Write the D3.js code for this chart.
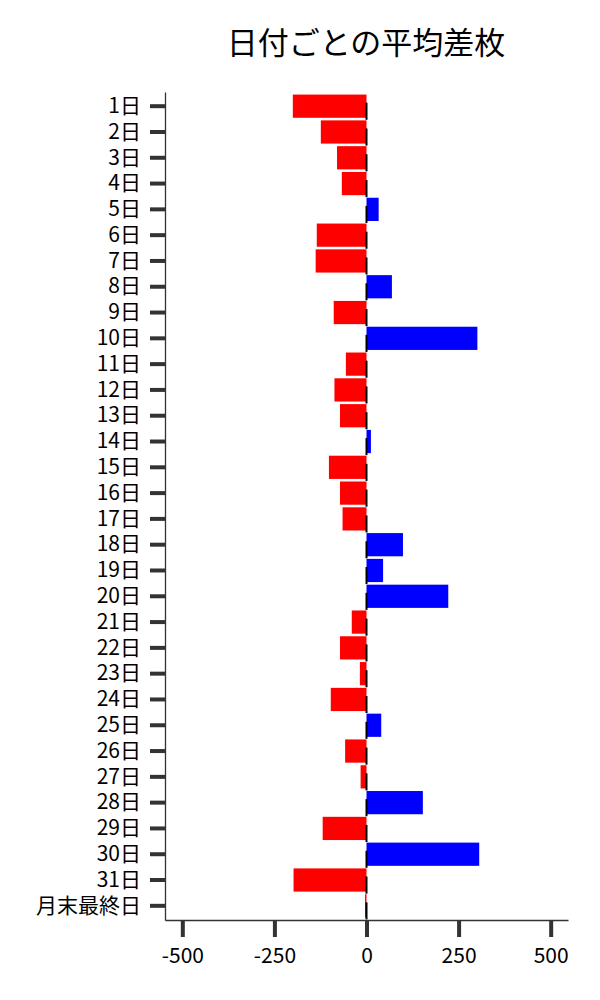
<!DOCTYPE html>
<html>
<head>
<meta charset="utf-8">
<script src="https://cdn.jsdelivr.net/npm/d3@7"></script>
<style>
  body { margin: 0; background: #fff; }
  text { font-family: "Noto Sans CJK JP", "Noto Sans", sans-serif; }
</style>
</head>
<body>
<script>
//categories (day of month) and average difference per day
var days = ["1日","2日","3日","4日","5日","6日","7日","8日","9日","10日",
            "11日","12日","13日","14日","15日","16日","17日","18日","19日","20日",
            "21日","22日","23日","24日","25日","26日","27日","28日","29日","30日",
            "31日","月末最終日"];
var avgDiff = [-200,-124,-80,-67,33,-135,-138,69,-89,301,
               -56,-87,-72,12,-102,-72,-65,99,45,222,
               -40,-72,-18,-97,40,-58,-16,153,-119,306,
               -198,-4];
var xTicks = [-500, -250, 0, 250, 500];

var w = 600, h = 1000;
var margin = {top: 92, right: 32, bottom: 80, left: 165};

var svg = d3.select("body").append("svg")
    .attr("width", w)
    .attr("height", h);

var data = days.map(function(d, i){ return {day: d, value: avgDiff[i]}; });

//scales
var x = d3.scaleLinear()
    .domain([-547, 547])
    .range([margin.left, w - margin.right]);

var y = d3.scaleBand()
    .domain(days)
    .range([margin.top, h - margin.bottom])
    .paddingInner(0.1)
    .paddingOuter(0.1);

//title
svg.append("text")
    .attr("x", 366)
    .attr("y", 54)
    .attr("text-anchor", "middle")
    .style("font-size", "31px")
    .text("日付ごとの平均差枚");

//bars
svg.selectAll(".bar")
    .data(data)
    .enter()
    .append("rect")
    .attr("class", "bar")
    .attr("x", function(d){ return x(Math.min(0, d.value)); })
    .attr("width", function(d){ return Math.abs(x(d.value) - x(0)); })
    .attr("y", function(d){ return y(d.day); })
    .attr("height", y.bandwidth())
    .style("fill", function(d){ return d.value < 0 ? "#ff0000" : "#0000ff"; });

//small black marks at zero
svg.selectAll(".mark")
    .data(data)
    .enter()
    .append("line")
    .attr("class", "mark")
    .attr("x1", x(0))
    .attr("x2", x(0))
    .attr("y1", function(d){ return y(d.day) + y.bandwidth() * 0.35; })
    .attr("y2", function(d){ return y(d.day) + y.bandwidth() + 2; })
    .style("stroke", "#000")
    .style("stroke-width", 2);

//y axis
var yAxis = svg.append("g")
    .attr("transform", "translate(" + margin.left + ",0)")
    .call(d3.axisLeft(y).tickSize(15).tickPadding(9).tickSizeOuter(0));

//x axis (plain hyphen for negatives, like the original)
var xAxis = svg.append("g")
    .attr("transform", "translate(0," + (h - margin.bottom) + ")")
    .call(d3.axisBottom(x).tickValues(xTicks)
        .tickFormat(function(d){ return String(d); })
        .tickSize(17).tickPadding(11).tickSizeOuter(0));

[yAxis, xAxis].forEach(function(a){
    a.select(".domain").style("stroke", "#333").style("stroke-width", 1.3);
    a.selectAll(".tick line").style("stroke", "#333").style("stroke-width", 4);
    a.selectAll(".tick text")
        .style("font-size", "21px")
        .style("font-family", "'Noto Sans CJK JP', sans-serif")
        .style("fill", "#000");
});
</script>
</body>
</html>
